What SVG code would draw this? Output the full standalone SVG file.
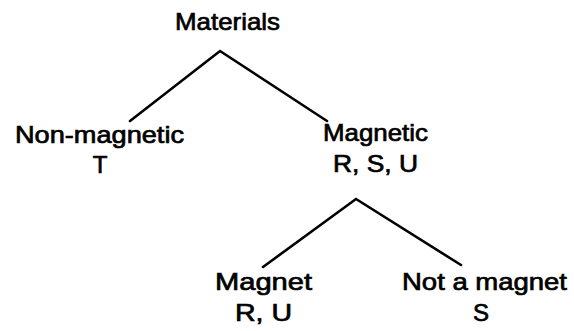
<svg xmlns="http://www.w3.org/2000/svg" width="574" height="331" viewBox="0 0 574 331">
<style>
.t{font-family:"Liberation Sans",Arial,sans-serif;font-size:24px;fill:#000;stroke:#000;stroke-width:0.7;text-anchor:middle}
.c{stroke:#000;stroke-width:2.6;fill:none;stroke-linecap:round;stroke-linejoin:miter}
</style>
<rect width="574" height="331" fill="#fff"/>
<g id="connectors">
<polyline class="c" points="130,121 220,51 327,121"/>
<polyline class="c" points="263,267 356,199 461,265"/>
</g>
<g id="materials"><text class="t" x="227.5" y="30" textLength="105" lengthAdjust="spacingAndGlyphs">Materials</text></g>
<g id="nonmagnetic"><text class="t" x="99.5" y="143" textLength="169" lengthAdjust="spacingAndGlyphs">Non-magnetic</text><text class="t" x="100" y="173">T</text></g>
<g id="magnetic"><text class="t" x="375.5" y="141" textLength="105" lengthAdjust="spacingAndGlyphs">Magnetic</text><text class="t" x="375.5" y="172" textLength="85" lengthAdjust="spacingAndGlyphs">R, S, U</text></g>
<g id="magnet"><text class="t" x="263.5" y="290" textLength="97" lengthAdjust="spacingAndGlyphs">Magnet</text><text class="t" x="263.5" y="321" textLength="57" lengthAdjust="spacingAndGlyphs">R, U</text></g>
<g id="notmagnet"><text class="t" x="484.5" y="290" textLength="165" lengthAdjust="spacingAndGlyphs">Not a magnet</text><text class="t" x="481" y="321">S</text></g>
</svg>
